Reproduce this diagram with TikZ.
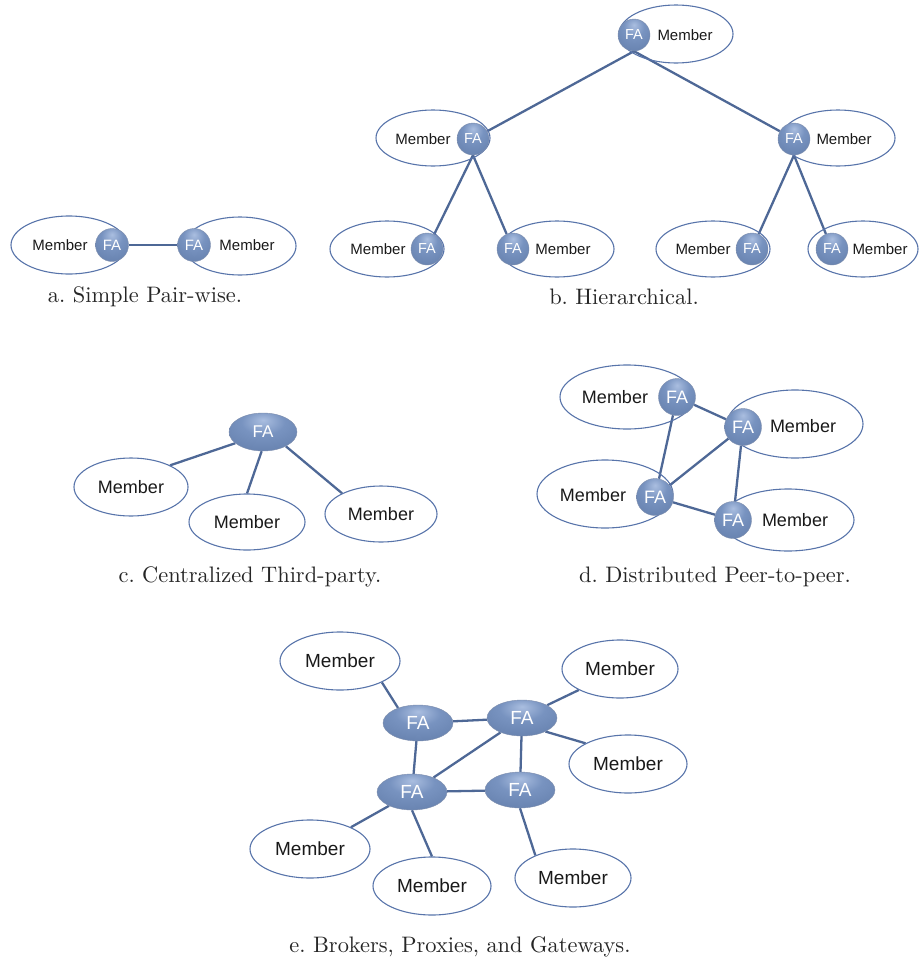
\documentclass[tikz,border=0pt]{standalone}
\usepackage{fontspec}
\newfontfamily\arial{Liberation Sans}
\newfontfamily\capfont{lmroman10-regular.otf}
\usetikzlibrary{shapes.geometric}
\definecolor{fahi}{RGB}{170,190,224}
\definecolor{famid}{RGB}{120,147,192}
\definecolor{famd}{RGB}{98,125,170}
\definecolor{fadark}{RGB}{70,94,138}
\definecolor{edgec}{RGB}{78,104,150}
\definecolor{ellc}{RGB}{88,116,170}
\pgfdeclareradialshading{fashade}{\pgfpoint{0bp}{16bp}}{color(0bp)=(fahi); color(16bp)=(famid); color(42bp)=(famd); color(56bp)=(fadark); color(80bp)=(fadark)}
\pgfdeclarelayer{bg}
\pgfsetlayers{bg,main}
\tikzset{
  fa/.style={circle, inner sep=0pt, shading=fashade, draw=fadark!70, line width=0.4pt, text=white, font=\arial\fontsize{#1}{#1}\selectfont},
  faell/.style={ellipse, inner sep=0pt, shading=fashade, draw=fadark!70, line width=0.4pt, text=white, minimum width=70pt, minimum height=36pt, font=\arial\fontsize{#1}{#1}\selectfont},
  mem/.style={ellipse, draw=ellc, line width=1.1pt, inner sep=0pt},
  mtxt/.style={font=\arial\fontsize{#1}{#1}\selectfont, text=black!90},
  link/.style={draw=edgec, line width=2.3pt},
  captxt/.style={font=\capfont\fontsize{22.4}{26}\selectfont\frenchspacing, text=black!85}
}
\begin{document}
\begin{tikzpicture}[x=1pt,y=-1pt]
\useasboundingbox (0,0) rectangle (920,964);
% ---------- a ----------
\node[mem, minimum width=116pt, minimum height=58pt] (a1m) at (69,245) {};
\node[mtxt=15] (a1t) at (60,245) {Member};
\node[mem, minimum width=112pt, minimum height=58pt] (a2m) at (240,246) {};
\node[mtxt=15] (a2t) at (247,245) {Member};
\node[fa=15, minimum size=33pt] (a1f) at (112,245) {FA};
\node[fa=15, minimum size=33pt] (a2f) at (194,245) {FA};
\begin{pgfonlayer}{bg}
\draw[link, line width=1.5pt] (a1f) -- (a2f);
\end{pgfonlayer}
\node[captxt] (capa) at (145,297) {a. Simple Pair-wise.};
% ---------- b ----------
\node[mem, minimum width=114pt, minimum height=58pt] (btm) at (676,34) {};
\node[mtxt=15] (btt) at (685,35) {Member};
\node[mem, minimum width=114pt, minimum height=56pt] (blm) at (433,138) {};
\node[mtxt=15] (blt) at (423,139) {Member};
\node[mem, minimum width=114pt, minimum height=56pt] (brm) at (838,138) {};
\node[mtxt=15] (brt) at (844,139) {Member};
\node[mem, minimum width=114pt, minimum height=56pt] (b1m) at (387,249) {};
\node[mtxt=15] (b1t) at (378,249) {Member};
\node[mem, minimum width=114pt, minimum height=56pt] (b2m) at (557,249) {};
\node[mtxt=15] (b2t) at (563,249) {Member};
\node[mem, minimum width=114pt, minimum height=56pt] (b3m) at (713,249) {};
\node[mtxt=15] (b3t) at (703,249) {Member};
\node[mem, minimum width=110pt, minimum height=56pt] (b4m) at (863,249) {};
\node[mtxt=15] (b4t) at (880,249) {Member};
\node[fa=14.5, minimum size=32pt] (bt) at (634,35) {FA};
\node[fa=14.5, minimum size=32pt] (bl) at (473,139) {FA};
\node[fa=14.5, minimum size=32pt] (br) at (794,139) {FA};
\node[fa=14.5, minimum size=32pt] (b1) at (427,249) {FA};
\node[fa=14.5, minimum size=32pt] (b2) at (513,249) {FA};
\node[fa=14.5, minimum size=32pt] (b3) at (752,249) {FA};
\node[fa=14.5, minimum size=32pt] (b4) at (832,249) {FA};
\begin{pgfonlayer}{bg}
\draw[link] (bt.south) -- (bl);
\draw[link] (bt.south) -- (br);
\draw[link] (bl.south) -- (b1);
\draw[link] (bl.south) -- (b2);
\draw[link] (br.south) -- (b3);
\draw[link] (br.south) -- (b4);
\end{pgfonlayer}
\node[captxt] (capb) at (624,297) {b. Hierarchical.};
% ---------- c ----------
\node[faell=17, minimum width=68pt, minimum height=38pt] (cf) at (263,432) {FA};
\node[mem, minimum width=114pt, minimum height=58pt, mtxt=18] (c1) at (131,487) {Member};
\node[mem, minimum width=116pt, minimum height=56pt, mtxt=18] (c2) at (247,522) {Member};
\node[mem, minimum width=112pt, minimum height=56pt, mtxt=18] (c3) at (381,514) {Member};
\begin{pgfonlayer}{bg}
\draw[link] (cf.202) -- (c1.29);
\draw[link] (cf.266) -- (c2.90);
\draw[link] (cf.328) -- (c3.152);
\end{pgfonlayer}
\node[captxt] (capc) at (250,577) {c. Centralized Third-party.};
% ---------- d ----------
\node[mem, minimum width=134pt, minimum height=64pt] (d1m) at (627,397) {};
\node[mtxt=18] (d1t) at (615,397) {Member};
\node[mem, minimum width=136pt, minimum height=68pt] (d2m) at (795,424) {};
\node[mtxt=18] (d2t) at (803,426) {Member};
\node[mem, minimum width=136pt, minimum height=68pt] (d3m) at (605,494) {};
\node[mtxt=18] (d3t) at (593,495) {Member};
\node[mem, minimum width=132pt, minimum height=62pt] (d4m) at (788,520) {};
\node[mtxt=18] (d4t) at (795,520) {Member};
\node[fa=18, minimum size=37pt] (d1) at (677,397) {FA};
\node[fa=18, minimum size=37pt] (d2) at (743,427) {FA};
\node[fa=18, minimum size=37pt] (d3) at (655,497) {FA};
\node[fa=18, minimum size=37pt] (d4) at (733,520) {FA};
\begin{pgfonlayer}{bg}
\draw[link] (d1) -- (d2);
\draw[link] (d1) -- (d3);
\draw[link] (d2) -- (d3);
\draw[link] (d2) -- (d4);
\draw[link] (d3) -- (d4);
\end{pgfonlayer}
\node[captxt] (capd) at (715,577) {d. Distributed Peer-to-peer.};
% ---------- e ----------
\node[faell=19] (eA) at (418,723) {FA};
\node[faell=19] (eB) at (522,718) {FA};
\node[faell=19] (eC) at (412,792) {FA};
\node[faell=19] (eD) at (520,790) {FA};
\node[mem, minimum width=120pt, minimum height=58pt, mtxt=19] (m1) at (340,661) {Member};
\node[mem, minimum width=116pt, minimum height=58pt, mtxt=19] (m2) at (620,669) {Member};
\node[mem, minimum width=118pt, minimum height=58pt, mtxt=19] (m3) at (628,764) {Member};
\node[mem, minimum width=120pt, minimum height=58pt, mtxt=19] (m4) at (310,849) {Member};
\node[mem, minimum width=118pt, minimum height=58pt, mtxt=19] (m5) at (432,886) {Member};
\node[mem, minimum width=116pt, minimum height=58pt, mtxt=19] (m6) at (573,878) {Member};
\begin{pgfonlayer}{bg}
\draw[link] (m1.333) -- (eA.143);
\draw[link] (eA) -- (eB);
\draw[link] (eA) -- (eC);
\draw[link] (eB) -- (eC);
\draw[link] (eB) -- (eD);
\draw[link] (eC) -- (eD);
\draw[link] (eB.27) -- (m2.207);
\draw[link] (eB.330) -- (m3.154);
\draw[link] (eC.211) -- (m4.28);
\draw[link] (eC.south) -- (m5.north);
\draw[link] (eD.south) -- (m6.149);
\end{pgfonlayer}
\node[captxt] (cape) at (460,947) {e. Brokers, Proxies, and Gateways.};
\end{tikzpicture}
\end{document}
